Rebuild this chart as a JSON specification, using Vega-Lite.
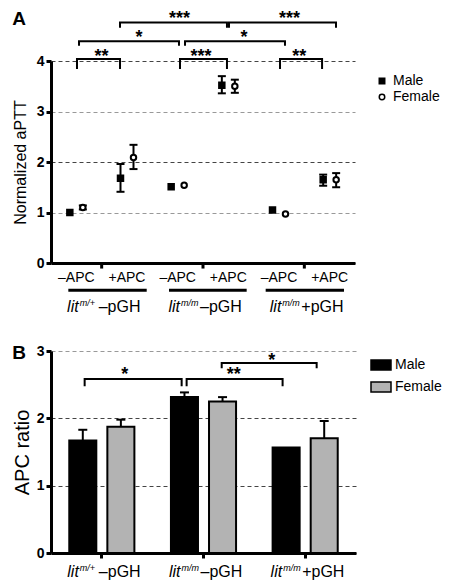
{
  "$schema": "https://vega.github.io/schema/vega-lite/v6.json",
  "padding": {"left": 12, "top": 10, "right": 25, "bottom": 5},
  "spacing": 28,
  "resolve": {"scale": {"fill": "independent", "shape": "independent", "xOffset": "independent"}},
  "config": {
    "font": "Liberation Sans",
    "view": {"stroke": null},
    "axis": {"labelColor": "black", "titleColor": "black", "domainColor": "black", "tickColor": "black", "labelFont": "Liberation Sans", "titleFont": "Liberation Sans"},
    "legend": {"labelColor": "black", "labelFont": "Liberation Sans"},
    "title": {"color": "black"}
  },
  "vconcat": [
    {
      "width": 304,
      "height": 202,
      "title": {"text": "A", "anchor": "start", "frame": "bounds", "fontSize": 19, "fontWeight": "bold", "offset": -19},
      "resolve": {"scale": {"x": "independent"}},
      "layer": [
        {
          "data": {"values": [
            {"cond": "1–APC", "sex": "Male", "mean": 1.00, "lo": null, "hi": null},
            {"cond": "1–APC", "sex": "Female", "mean": 1.10, "lo": 1.06, "hi": 1.14},
            {"cond": "1+APC", "sex": "Male", "mean": 1.68, "lo": 1.41, "hi": 1.96},
            {"cond": "1+APC", "sex": "Female", "mean": 2.09, "lo": 1.86, "hi": 2.34},
            {"cond": "2–APC", "sex": "Male", "mean": 1.51, "lo": null, "hi": null},
            {"cond": "2–APC", "sex": "Female", "mean": 1.54, "lo": null, "hi": null},
            {"cond": "2+APC", "sex": "Male", "mean": 3.52, "lo": 3.36, "hi": 3.70},
            {"cond": "2+APC", "sex": "Female", "mean": 3.50, "lo": 3.37, "hi": 3.63},
            {"cond": "3–APC", "sex": "Male", "mean": 1.05, "lo": null, "hi": null},
            {"cond": "3–APC", "sex": "Female", "mean": 0.97, "lo": null, "hi": null},
            {"cond": "3+APC", "sex": "Male", "mean": 1.65, "lo": 1.53, "hi": 1.75},
            {"cond": "3+APC", "sex": "Female", "mean": 1.65, "lo": 1.50, "hi": 1.78}
          ]},
          "encoding": {
            "x": {"field": "cond", "type": "nominal",
              "scale": {"domain": ["1–APC", "1+APC", "2–APC", "2+APC", "3–APC", "3+APC"], "paddingInner": 0, "paddingOuter": 0},
              "axis": {"title": null, "ticks": false, "domainWidth": 3, "labelFontSize": 14, "labelPadding": 7, "labelAngle": 0, "labelExpr": "slice(datum.label, 1)"}},
            "xOffset": {"field": "sex", "type": "nominal", "scale": {"domain": ["Male", "Female"], "paddingInner": 0, "paddingOuter": 0.95}}
          },
          "layer": [
            {
              "mark": {"type": "point", "filled": true, "stroke": "black", "strokeWidth": 2, "size": 30, "opacity": 0},
              "encoding": {
                "y": {"field": "mean", "type": "quantitative", "scale": {"domain": [0, 4], "nice": false},
                  "axis": {"title": "Normalized aPTT", "titleFontSize": 16, "titleFontWeight": "normal", "titlePadding": 8,
                    "values": [0, 1, 2, 3, 4], "format": "d", "labelFontSize": 14, "labelFontWeight": "bold", "labelPadding": 2,
                    "tickSize": 5, "tickWidth": 3, "domainWidth": 3,
                    "grid": true, "gridDash": [4, 3], "gridWidth": 1,
                    "gridColor": {"condition": {"test": "datum.value % 2 == 0", "value": "#444444"}, "value": "#999999"}}}
              }
            },
            {
              "transform": [{"filter": "datum.lo != null"}],
              "mark": {"type": "rule", "color": "black", "strokeWidth": 2},
              "encoding": {
                "y": {"field": "lo", "type": "quantitative", "scale": {"domain": [0, 4], "nice": false}},
                "y2": {"field": "hi"}
              }
            },
            {
              "transform": [{"filter": "datum.lo != null"}],
              "mark": {"type": "tick", "orient": "horizontal", "color": "black", "size": 8, "thickness": 2, "opacity": 1},
              "encoding": {
                "y": {"field": "lo", "type": "quantitative", "scale": {"domain": [0, 4], "nice": false}}
              }
            },
            {
              "transform": [{"filter": "datum.lo != null"}],
              "mark": {"type": "tick", "orient": "horizontal", "color": "black", "size": 8, "thickness": 2, "opacity": 1},
              "encoding": {
                "y": {"field": "hi", "type": "quantitative", "scale": {"domain": [0, 4], "nice": false}}
              }
            },
            {
              "mark": {"type": "point", "filled": true, "stroke": "black", "strokeWidth": 2, "size": 30, "opacity": 1},
              "encoding": {
                "y": {"field": "mean", "type": "quantitative", "scale": {"domain": [0, 4], "nice": false}},
                "fill": {"field": "sex", "type": "nominal", "scale": {"domain": ["Male", "Female"], "range": ["black", "white"]},
                  "legend": {"title": null, "orient": "none", "legendX": 324, "legendY": 13, "labelFontSize": 14, "symbolSize": 30, "symbolOpacity": 1, "padding": 0, "rowPadding": 2, "labelOffset": 4,
                    "encode": {"symbols": {"update": {"stroke": {"value": "black"}, "strokeWidth": {"value": 2}}}}}},
                "shape": {"field": "sex", "type": "nominal", "scale": {"domain": ["Male", "Female"], "range": ["square", "circle"]},
                  "legend": {"title": null, "orient": "none", "legendX": 324, "legendY": 13, "labelFontSize": 14, "symbolSize": 30, "symbolOpacity": 1, "padding": 0, "rowPadding": 2, "labelOffset": 4,
                    "encode": {"symbols": {"update": {"stroke": {"value": "black"}, "strokeWidth": {"value": 2}}}}}}
              }
            }
          ]
        },
        {
          "layer": [
            {
              "data": {"values": [
                {"b": "r1a", "o": 1, "x": 0.513, "y": 3.84}, {"b": "r1a", "o": 2, "x": 0.513, "y": 4.04}, {"b": "r1a", "o": 3, "x": 1.362, "y": 4.04}, {"b": "r1a", "o": 4, "x": 1.362, "y": 3.84},
                {"b": "r1b", "o": 1, "x": 2.546, "y": 3.84}, {"b": "r1b", "o": 2, "x": 2.546, "y": 4.04}, {"b": "r1b", "o": 3, "x": 3.473, "y": 4.04}, {"b": "r1b", "o": 4, "x": 3.473, "y": 3.84},
                {"b": "r1c", "o": 1, "x": 4.52, "y": 3.84}, {"b": "r1c", "o": 2, "x": 4.52, "y": 4.04}, {"b": "r1c", "o": 3, "x": 5.35, "y": 4.04}, {"b": "r1c", "o": 4, "x": 5.35, "y": 3.84},
                {"b": "r2a", "o": 1, "x": 0.553, "y": 4.30}, {"b": "r2a", "o": 2, "x": 0.553, "y": 4.39}, {"b": "r2a", "o": 3, "x": 2.526, "y": 4.39}, {"b": "r2a", "o": 4, "x": 2.526, "y": 4.30},
                {"b": "r2b", "o": 1, "x": 2.645, "y": 4.30}, {"b": "r2b", "o": 2, "x": 2.645, "y": 4.39}, {"b": "r2b", "o": 3, "x": 4.618, "y": 4.39}, {"b": "r2b", "o": 4, "x": 4.618, "y": 4.30},
                {"b": "r3a", "o": 1, "x": 1.362, "y": 4.66}, {"b": "r3a", "o": 2, "x": 1.362, "y": 4.76}, {"b": "r3a", "o": 3, "x": 3.473, "y": 4.76}, {"b": "r3a", "o": 4, "x": 3.473, "y": 4.66},
                {"b": "r3b", "o": 1, "x": 3.513, "y": 4.66}, {"b": "r3b", "o": 2, "x": 3.513, "y": 4.76}, {"b": "r3b", "o": 3, "x": 5.625, "y": 4.76}, {"b": "r3b", "o": 4, "x": 5.625, "y": 4.66}
              ]},
              "mark": {"type": "line", "color": "black", "strokeWidth": 2, "strokeJoin": "miter"},
              "encoding": {
                "x": {"field": "x", "type": "quantitative", "scale": {"domain": [0, 6], "nice": false, "zero": false}, "axis": null},
                "y": {"field": "y", "type": "quantitative", "scale": {"domain": [0, 4], "nice": false}},
                "detail": {"field": "b"},
                "order": {"field": "o"}
              }
            },
            {
              "data": {"values": [
                {"x": 0.997, "y": 4.07, "s": "**"}, {"x": 2.96, "y": 4.07, "s": "***"}, {"x": 4.90, "y": 4.07, "s": "**"},
                {"x": 1.737, "y": 4.46, "s": "*"}, {"x": 3.81, "y": 4.46, "s": "*"},
                {"x": 2.536, "y": 4.83, "s": "***"}, {"x": 4.707, "y": 4.83, "s": "***"}
              ]},
              "mark": {"type": "text", "fontSize": 18, "fontWeight": "bold", "color": "black", "baseline": "middle"},
              "encoding": {
                "x": {"field": "x", "type": "quantitative", "scale": {"domain": [0, 6], "nice": false, "zero": false}, "axis": null},
                "y": {"field": "y", "type": "quantitative", "scale": {"domain": [0, 4], "nice": false}},
                "text": {"field": "s"}
              }
            },
            {
              "data": {"values": [{"x": 1}, {"x": 3}, {"x": 5}]},
              "mark": {"type": "rule", "color": "black", "strokeWidth": 3},
              "encoding": {
                "x": {"field": "x", "type": "quantitative", "scale": {"domain": [0, 6], "nice": false, "zero": false}, "axis": null},
                "y": {"datum": 0, "type": "quantitative", "scale": {"domain": [0, 4], "nice": false}},
                "y2": {"datum": -0.11}
              }
            },
            {
              "data": {"values": [{"x": 0.342, "x2": 1.889, "y": -0.539}, {"x": 2.329, "x2": 3.862, "y": -0.539}, {"x": 4.237, "x2": 5.783, "y": -0.539}]},
              "mark": {"type": "rule", "color": "black", "strokeWidth": 3},
              "encoding": {
                "x": {"field": "x", "type": "quantitative", "scale": {"domain": [0, 6], "nice": false, "zero": false}, "axis": null},
                "x2": {"field": "x2"},
                "y": {"field": "y", "type": "quantitative", "scale": {"domain": [0, 4], "nice": false}}
              }
            },
            {
              "data": {"values": [{"x": 1, "y": -0.976, "sup": "m/+", "tail": "–pGH"}, {"x": 3, "y": -0.976, "sup": "m/m", "tail": "–pGH"}, {"x": 5, "y": -0.976, "sup": "m/m", "tail": "+pGH"}]},
              "encoding": {
                "x": {"field": "x", "type": "quantitative", "scale": {"domain": [0, 6], "nice": false, "zero": false}, "axis": null},
                "y": {"field": "y", "type": "quantitative", "scale": {"domain": [0, 4], "nice": false}}
              },
              "layer": [
                {"mark": {"type": "text", "text": "lit", "fontSize": 16, "fontStyle": "italic", "align": "right", "baseline": "alphabetic", "dx": -23, "color": "black"}},
                {"mark": {"type": "text", "fontSize": 9, "fontStyle": "italic", "align": "left", "baseline": "alphabetic", "dx": -22, "dy": -6, "color": "black"}, "encoding": {"text": {"field": "sup"}}},
                {"mark": {"type": "text", "fontSize": 16, "align": "left", "baseline": "alphabetic", "dx": -3, "color": "black"}, "encoding": {"text": {"field": "tail"}}}
              ]
            }
          ]
        }
      ]
    },
    {
      "width": 305,
      "height": 202,
      "title": {"text": "B", "anchor": "start", "frame": "bounds", "fontSize": 19, "fontWeight": "bold", "offset": -19},
      "resolve": {"scale": {"x": "independent"}},
      "layer": [
        {
          "data": {"values": [
            {"grp": "g1", "sex": "Male", "mean": 1.67, "hi": 1.83},
            {"grp": "g1", "sex": "Female", "mean": 1.875, "hi": 1.98},
            {"grp": "g2", "sex": "Male", "mean": 2.315, "hi": 2.385},
            {"grp": "g2", "sex": "Female", "mean": 2.25, "hi": 2.315},
            {"grp": "g3", "sex": "Male", "mean": 1.565, "hi": null},
            {"grp": "g3", "sex": "Female", "mean": 1.705, "hi": 1.96}
          ]},
          "encoding": {
            "x": {"field": "grp", "type": "nominal",
              "scale": {"domain": ["g1", "g2", "g3"], "paddingInner": 0, "paddingOuter": 0},
              "axis": {"title": null, "labels": false, "domainWidth": 3, "tickSize": 5, "tickWidth": 3}},
            "xOffset": {"field": "sex", "type": "nominal", "scale": {"domain": ["Male", "Female"], "paddingInner": 0.29, "paddingOuter": 0.48}}
          },
          "layer": [
            {
              "mark": {"type": "bar", "stroke": "black", "strokeWidth": 2, "opacity": 1},
              "encoding": {
                "y": {"field": "mean", "type": "quantitative", "scale": {"domain": [0, 3], "nice": false},
                  "axis": {"title": "APC ratio", "titleFontSize": 20, "titleFontWeight": "normal", "titlePadding": 4,
                    "values": [0, 1, 2, 3], "format": "d", "labelFontSize": 14, "labelFontWeight": "bold", "labelPadding": 2,
                    "tickSize": 5, "tickWidth": 3, "domainWidth": 3,
                    "grid": true, "gridDash": [4, 3], "gridWidth": 1,
                    "gridColor": {"condition": {"test": "datum.value == 3", "value": "#999999"}, "value": "#444444"}}},
                "fill": {"field": "sex", "type": "nominal", "scale": {"domain": ["Male", "Female"], "range": ["black", "#b3b3b3"]},
                  "legend": {"title": null, "orient": "none", "legendX": 319, "legendY": 3, "labelFontSize": 14, "symbolType": "M-1,-0.5H1V0.5H-1Z", "symbolSize": 400, "symbolOpacity": 1, "padding": 0, "rowPadding": 3, "labelOffset": 3,
                    "encode": {"symbols": {"update": {"stroke": {"value": "black"}, "strokeWidth": {"value": 1.5}}}}}}
              }
            },
            {
              "transform": [{"filter": "datum.hi != null"}],
              "mark": {"type": "rule", "color": "black", "strokeWidth": 2},
              "encoding": {
                "y": {"field": "mean", "type": "quantitative", "scale": {"domain": [0, 3], "nice": false}},
                "y2": {"field": "hi"}
              }
            },
            {
              "transform": [{"filter": "datum.hi != null"}],
              "mark": {"type": "tick", "orient": "horizontal", "color": "black", "size": 9, "thickness": 2, "opacity": 1},
              "encoding": {
                "y": {"field": "hi", "type": "quantitative", "scale": {"domain": [0, 3], "nice": false}}
              }
            }
          ]
        },
        {
          "layer": [
            {
              "data": {"values": [
                {"b": "b1", "o": 1, "x": 0.331, "y": 2.475}, {"b": "b1", "o": 2, "x": 0.331, "y": 2.585}, {"b": "b1", "o": 3, "x": 1.285, "y": 2.585}, {"b": "b1", "o": 4, "x": 1.285, "y": 2.475},
                {"b": "b2", "o": 1, "x": 1.334, "y": 2.475}, {"b": "b2", "o": 2, "x": 1.334, "y": 2.585}, {"b": "b2", "o": 3, "x": 2.278, "y": 2.585}, {"b": "b2", "o": 4, "x": 2.278, "y": 2.475},
                {"b": "b3", "o": 1, "x": 1.679, "y": 2.743}, {"b": "b3", "o": 2, "x": 1.679, "y": 2.823}, {"b": "b3", "o": 3, "x": 2.613, "y": 2.823}, {"b": "b3", "o": 4, "x": 2.613, "y": 2.743}
              ]},
              "mark": {"type": "line", "color": "black", "strokeWidth": 2, "strokeJoin": "miter"},
              "encoding": {
                "x": {"field": "x", "type": "quantitative", "scale": {"domain": [0, 3], "nice": false, "zero": false}, "axis": null},
                "y": {"field": "y", "type": "quantitative", "scale": {"domain": [0, 3], "nice": false}},
                "detail": {"field": "b"},
                "order": {"field": "o"}
              }
            },
            {
              "data": {"values": [{"x": 0.725, "y": 2.64, "s": "*"}, {"x": 1.797, "y": 2.64, "s": "**"}, {"x": 2.171, "y": 2.85, "s": "*"}]},
              "mark": {"type": "text", "fontSize": 18, "fontWeight": "bold", "color": "black", "baseline": "middle"},
              "encoding": {
                "x": {"field": "x", "type": "quantitative", "scale": {"domain": [0, 3], "nice": false, "zero": false}, "axis": null},
                "y": {"field": "y", "type": "quantitative", "scale": {"domain": [0, 3], "nice": false}},
                "text": {"field": "s"}
              }
            },
            {
              "data": {"values": [{"x": 0.5, "y": -0.352, "sup": "m/+", "tail": "–pGH"}, {"x": 1.5, "y": -0.352, "sup": "m/m", "tail": "–pGH"}, {"x": 2.5, "y": -0.352, "sup": "m/m", "tail": "+pGH"}]},
              "encoding": {
                "x": {"field": "x", "type": "quantitative", "scale": {"domain": [0, 3], "nice": false, "zero": false}, "axis": null},
                "y": {"field": "y", "type": "quantitative", "scale": {"domain": [0, 3], "nice": false}}
              },
              "layer": [
                {"mark": {"type": "text", "text": "lit", "fontSize": 16, "fontStyle": "italic", "align": "right", "baseline": "alphabetic", "dx": -23, "color": "black"}},
                {"mark": {"type": "text", "fontSize": 9, "fontStyle": "italic", "align": "left", "baseline": "alphabetic", "dx": -22, "dy": -6, "color": "black"}, "encoding": {"text": {"field": "sup"}}},
                {"mark": {"type": "text", "fontSize": 16, "align": "left", "baseline": "alphabetic", "dx": -3, "color": "black"}, "encoding": {"text": {"field": "tail"}}}
              ]
            }
          ]
        }
      ]
    }
  ]
}
